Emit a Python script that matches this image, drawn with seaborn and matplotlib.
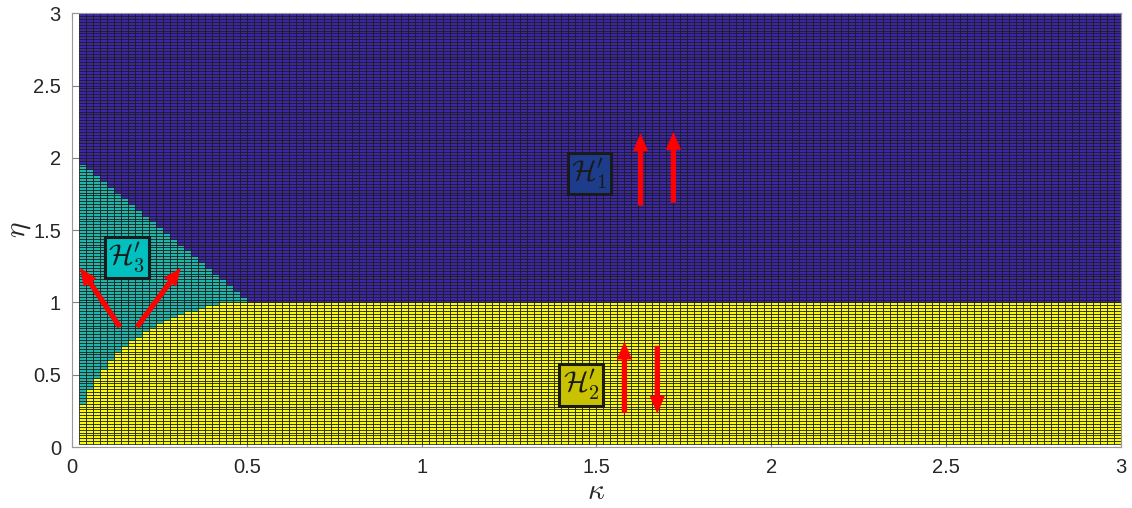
import numpy as np
import matplotlib
matplotlib.use("Agg")
import matplotlib.pyplot as plt
from matplotlib.colors import ListedColormap
import seaborn as sns

# ---- data ----
kappa_grid = np.round(np.arange(1, 151) * 0.02, 2)   # grid nodes 0.02 .. 3.00
eta_grid = np.round(np.arange(1, 151) * 0.02, 2)

# boundaries for the first columns (kappa = 0.02 .. 0.50)
left_kappa = [0.02, 0.04, 0.06, 0.08, 0.10, 0.12, 0.14, 0.16, 0.18, 0.20,
              0.22, 0.24, 0.26, 0.28, 0.30, 0.32, 0.34, 0.36, 0.38, 0.40,
              0.42, 0.44, 0.46, 0.48, 0.50]
h3_top = [1.96, 1.92, 1.88, 1.84, 1.80, 1.76, 1.72, 1.68, 1.64, 1.60,
          1.56, 1.52, 1.48, 1.44, 1.40, 1.36, 1.32, 1.28, 1.24, 1.20,
          1.16, 1.12, 1.08, 1.04, 1.00]
h2_top = [0.30, 0.40, 0.48, 0.54, 0.60, 0.66, 0.70, 0.74, 0.76, 0.80,
          0.82, 0.86, 0.88, 0.90, 0.92, 0.94, 0.94, 0.96, 0.98, 0.98,
          1.00, 1.00, 1.00, 1.00, 1.00]
split_eta = 1.0   # H1/H2 boundary for kappa >= 0.5

region_names = ["H1", "H3", "H2"]
region_colors = ["#3E26A8", "#1FB5AA", "#F9FB0E"]

labels = [r"$\mathcal{H}_1'$", r"$\mathcal{H}_2'$", r"$\mathcal{H}_3'$"]
label_pos = [(1.48, 1.89), (1.457, 0.43), (0.157, 1.31)]
label_face = ["#1E3C8C", "#C8C200", "#00C0C0"]

arrows = [((1.626, 1.67), (1.626, 2.17)),
          ((1.72, 1.69), (1.72, 2.18)),
          ((1.58, 0.235), (1.58, 0.73)),
          ((1.674, 0.70), (1.674, 0.23)),
          ((0.137, 0.83), (0.023, 1.24)),
          ((0.186, 0.83), (0.311, 1.24))]

xticks = [0, 0.5, 1, 1.5, 2, 2.5, 3]
xticklabels = ["0", "0.5", "1", "1.5", "2", "2.5", "3"]
yticks = [0, 0.5, 1, 1.5, 2, 2.5, 3]
yticklabels = ["0", "0.5", "1", "1.5", "2", "2.5", "3"]

# ---- build the region table ----
ncell = len(kappa_grid) - 1
C = np.zeros((ncell, ncell))
eta_centers = (eta_grid[:-1] + eta_grid[1:]) / 2
for j in range(ncell):
    if j < len(left_kappa):
        lo, hi = h2_top[j], h3_top[j]
    else:
        lo, hi = split_eta, split_eta
    for i, e in enumerate(eta_centers):
        if e < lo:
            C[i, j] = 2
        elif e < hi:
            C[i, j] = 1
        else:
            C[i, j] = 0

# ---- plot ----
sns.set_theme(style="white")
plt.rcParams["font.family"] = ["Liberation Sans", "DejaVu Sans"]
plt.rcParams["mathtext.fontset"] = "cm"

fig = plt.figure(figsize=(11.32, 5.08), dpi=100)
ax = fig.add_axes([0.0636, 0.12, 0.9266, 0.854])

cmap = ListedColormap(region_colors)
ax.pcolormesh(kappa_grid, eta_grid, C, cmap=cmap, vmin=-0.5, vmax=2.5,
              edgecolors="k", linewidth=0.55, antialiased=True)

for txt, (x, y), fc in zip(labels, label_pos, label_face):
    ax.text(x, y, txt, fontsize=21, ha="center", va="center", color="k",
            bbox=dict(boxstyle="square,pad=0.12", fc=fc, ec="k", lw=2.2),
            zorder=5)

for (x0, y0), (x1, y1) in arrows:
    ax.annotate("", xy=(x1, y1), xytext=(x0, y0),
                arrowprops=dict(arrowstyle="simple,head_length=1.3,head_width=1.1,tail_width=0.38",
                                color="#FF0000", lw=0, mutation_scale=10,
                                shrinkA=0, shrinkB=0),
                zorder=6)

ax.set_xlim(0, 3)
ax.set_ylim(0, 3)
ax.set_xticks(xticks)
ax.set_xticklabels(xticklabels)
ax.set_yticks(yticks)
ax.set_yticklabels(yticklabels)
ax.tick_params(direction="in", length=5, width=0.8, colors="#808080",
               labelcolor="#262626", labelsize=14.5, pad=8,
               top=True, right=True, bottom=True, left=True)
for s in ax.spines.values():
    s.set_visible(True)
    s.set_color("#999999")
    s.set_linewidth(0.8)

ax.set_xlabel(r"$\kappa$", fontsize=21, color="#262626")
ax.set_ylabel(r"$\eta$", fontsize=21, color="#262626")
ax.xaxis.set_label_coords(0.5, -0.07)
ax.yaxis.set_label_coords(-0.037, 0.5)

fig.savefig("out.png", dpi=100)
